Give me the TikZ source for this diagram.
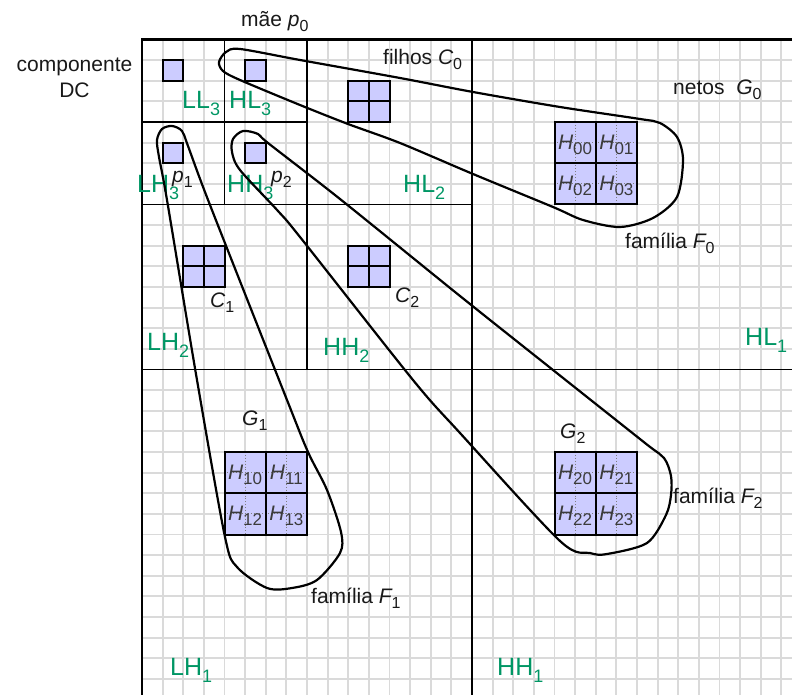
\documentclass[tikz,border=0pt]{standalone}
\usepackage{fontspec}
\setmainfont{Liberation Sans}
\definecolor{lblgreen}{RGB}{0,150,100}
\definecolor{sqfill}{RGB}{204,204,255}
\definecolor{gridc}{RGB}{218,218,218}
\definecolor{txtc}{RGB}{25,25,25}
\newcommand{\tsub}[1]{\raisebox{-5pt}{\fontsize{16}{16}\selectfont #1}}
\newcommand{\gsub}[1]{\raisebox{-7pt}{\fontsize{18}{18}\selectfont #1}}
\newcommand{\hsub}[1]{\raisebox{-5pt}{\fontsize{17}{17}\selectfont #1}}
\tikzset{
  txt/.style={font=\fontsize{21}{25}\selectfont, text=txtc, inner sep=0pt, anchor=base west},
  glbl/.style={font=\fontsize{25}{30}\selectfont, text=lblgreen, inner sep=0pt, anchor=base west},
  hlbl/.style={font=\fontsize{21}{25}\selectfont, text=txtc!85!white, inner sep=0pt},
  gridline/.style={draw=gridc, line width=1.8pt},
  divline/.style={line width=1.8pt},
  sqedge/.style={draw=black, line width=2pt},
  dotl/.style={draw=gray, dotted, line width=0.9pt},
  loopline/.style={line width=2.2pt, line join=round},
}
\begin{document}
\begin{tikzpicture}[x=1pt,y=-1pt]
\useasboundingbox (0,0) rectangle (792,695);
\begin{scope}
\clip (0,0) rectangle (792,695);
\begin{scope}[shift={(142,39.5)}, x=20.625pt, y=-20.625pt]
  % fine grid
  \foreach \k in {0,...,32} {
    \draw[gridline] (\k,0) -- (\k,32);
    \draw[gridline] (0,\k) -- (32,\k);
  }
  % subband divisions
  \draw[line width=2.2pt] (0,32) -- (0,0) -- (32,0);
  \draw[divline] (16,0) -- (16,32) (0,16) -- (32,16);
  \draw[divline] (8,0) -- (8,16) (0,8) -- (16,8);
  \draw[divline] (4,0) -- (4,8) (0,4) -- (8,4);
  % single coefficients
  \foreach \c/\r in {1/1, 5/1, 1/5, 5/5} {
    \fill[sqfill] (\c,\r) rectangle ++(1,1);
    \draw[sqedge] (\c,\r) rectangle ++(1,1);
  }
  % children blocks
  \foreach \c/\r in {10/2, 2/10, 10/10} {
    \fill[sqfill] (\c,\r) rectangle ++(2,2);
    \draw[sqedge] (\c,\r) rectangle ++(2,2);
    \draw[sqedge] (\c+1,\r) -- ++(0,2) (\c,\r+1) -- ++(2,0);
  }
  % grandchildren blocks
  \foreach \c/\r in {20/4, 4/20, 20/20} {
    \fill[sqfill] (\c,\r) rectangle ++(4,4);
    \draw[dotl] (\c+1,\r) -- ++(0,4) (\c+3,\r) -- ++(0,4)
                (\c,\r+1) -- ++(4,0) (\c,\r+3) -- ++(4,0);
    \draw[sqedge] (\c,\r) rectangle ++(4,4);
    \draw[sqedge] (\c+2,\r) -- ++(0,4) (\c,\r+2) -- ++(4,0);
  }
\end{scope}
\end{scope}

% H labels
\node[hlbl] (h00) at (575.1,144.6) {{\itshape H}\hsub{00}};
\node[hlbl] (h01) at (616.4,144.6) {{\itshape H}\hsub{01}};
\node[hlbl] (h02) at (575.1,185.9) {{\itshape H}\hsub{02}};
\node[hlbl] (h03) at (616.4,185.9) {{\itshape H}\hsub{03}};
\node[hlbl] (h10) at (245.1,474.6) {{\itshape H}\hsub{10}};
\node[hlbl] (h11) at (286.4,474.6) {{\itshape H}\hsub{11}};
\node[hlbl] (h12) at (245.1,515.9) {{\itshape H}\hsub{12}};
\node[hlbl] (h13) at (286.4,515.9) {{\itshape H}\hsub{13}};
\node[hlbl] (h20) at (575.1,474.6) {{\itshape H}\hsub{20}};
\node[hlbl] (h21) at (616.4,474.6) {{\itshape H}\hsub{21}};
\node[hlbl] (h22) at (575.1,515.9) {{\itshape H}\hsub{22}};
\node[hlbl] (h23) at (616.4,515.9) {{\itshape H}\hsub{23}};

% text labels
\node[txt] (mae) at (241,27) {mãe {\itshape p}\tsub{0}};
\node[txt, anchor=base] (comp) at (74.5,72) {componente};
\node[txt, anchor=base] (dc) at (74.5,98) {DC};
\node[txt] (filhos) at (383,65) {filhos {\itshape C}\tsub{0}};
\node[txt] (netos) at (673,95) {netos\ \ {\itshape G}\tsub{0}};
\node[txt] (famF0) at (625,248) {família {\itshape F}\tsub{0}};
\node[txt] (famF1) at (311,603) {família {\itshape F}\tsub{1}};
\node[txt] (famF2) at (673,503) {família {\itshape F}\tsub{2}};
\node[txt] (c1) at (210,307) {{\itshape C}\tsub{1}};
\node[txt] (c2) at (395,302) {{\itshape C}\tsub{2}};
\node[txt] (g1) at (242,425) {{\itshape G}\tsub{1}};
\node[txt] (g2) at (560,438) {{\itshape G}\tsub{2}};
\node[txt] (p1) at (172,183) {{\itshape p}\tsub{1}};
\node[txt] (p2) at (271,183) {{\itshape p}\tsub{2}};

% subband labels
\node[glbl] (ll3) at (182,109) {LL\gsub{3}};
\node[glbl] (hl3) at (229,109) {HL\gsub{3}};
\node[glbl] (lh3) at (137,193) {LH\gsub{3}};
\node[glbl] (hh3) at (227,193) {HH\gsub{3}};
\node[glbl] (hl2) at (403,193) {HL\gsub{2}};
\node[glbl] (lh2) at (147,350) {LH\gsub{2}};
\node[glbl] (hh2) at (323,355) {HH\gsub{2}};
\node[glbl] (hl1) at (745,345) {HL\gsub{1}};
\node[glbl] (lh1) at (170,675) {LH\gsub{1}};
\node[glbl] (hh1) at (497,675) {HH\gsub{1}};

% families
\draw[loopline] plot[smooth cycle, tension=0.5] coordinates {
  (219,62) (226,52) (240,49) (300,60) (400,78) (473,92) (560,107) (640,119)
  (660,123) (677,137) (683,160) (677,197) (653,218) (620,227) (583,220)
  (553,207) (473,174) (400,143) (348,124) (300,105) (240,80) (223,71)};
\draw[loopline] plot[smooth cycle, tension=0.5] coordinates {
  (172,126) (182,131) (188,146) (210,205) (287,400) (308,452) (327,490)
  (341,532) (340,553) (317,580) (292,588) (267,588) (237,567) (225,537)
  (197,380) (167,200) (159,157) (157,140) (162,129)};
\draw[loopline] plot[smooth cycle, tension=0.5] coordinates {
  (243,131) (258,134) (268,143) (340,199) (460,296) (553,370) (645,443)
  (664,458) (671,476) (671,495) (666,515) (647,543) (607,554) (590,553)
  (560,541) (460,433) (413,380) (300,237) (278,211) (240,170) (232,152)
  (233,139)};
\end{tikzpicture}
\end{document}
